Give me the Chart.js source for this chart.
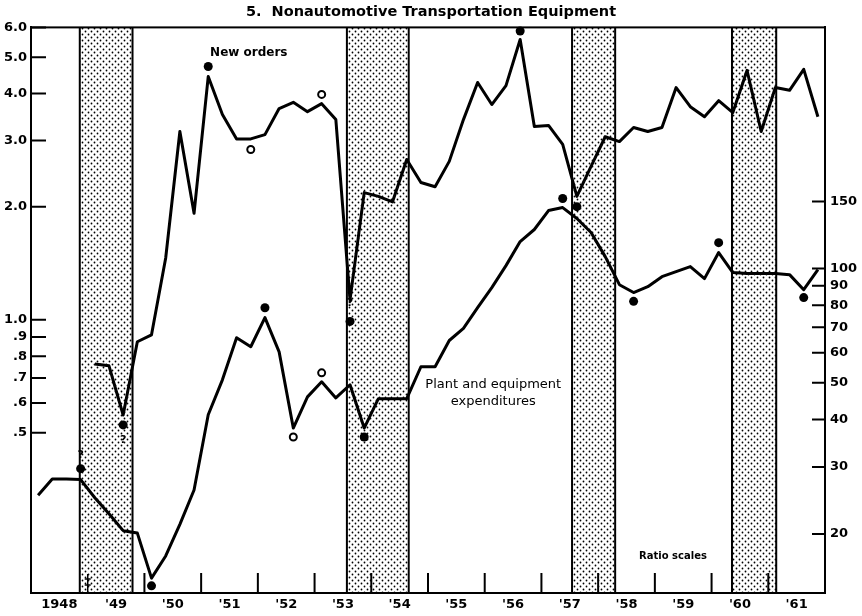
<!DOCTYPE html>
<html>
<head>
<meta charset="utf-8">
<script src="https://cdn.jsdelivr.net/npm/chart.js@4.4.1/dist/chart.umd.min.js"></script>
<style>
  body { margin: 0; background: #fff; }
  #wrap { width: 862px; height: 616px; }
</style>
</head>
<body>
<div id="wrap"><canvas id="myChart" width="862" height="616"></canvas></div>
<script>
// quarterly values, 1948 Q1 onward
var firstYear = 1948;

var newOrders = [null, null, null, null, 0.763, 0.754, 0.558, 0.874, 0.912, 1.46,
  3.17, 1.92, 4.44, 3.52, 3.03, 3.03, 3.11, 3.65, 3.79, 3.58,
  3.76, 3.41, 1.13, 2.18, 2.13, 2.06, 2.67, 2.32, 2.26, 2.64,
  3.41, 4.28, 3.74, 4.20, 5.57, 3.27, 3.29, 2.93, 2.13, 2.56,
  3.07, 2.98, 3.25, 3.17, 3.25, 4.15, 3.69, 3.47, 3.83, 3.56,
  4.61, 3.17, 4.15, 4.08, 4.64, 3.47];

var plantExp = [25.3, 27.9, 27.9, 27.8, 24.9, 22.6, 20.4, 20.1, 15.3, 17.5,
  21.2, 26.1, 41.2, 50.9, 65.7, 62.2, 74.2, 60.3, 38.0, 45.9,
  50.3, 45.6, 49.4, 38.0, 45.4, 45.4, 45.4, 55.1, 55.1, 64.6,
  69.5, 78.8, 89.0, 101.7, 117.7, 126.6, 142.0, 144.6, 135.3, 124.3,
  107.4, 90.6, 86.4, 89.5, 95.1, 98.1, 101.1, 94.0, 110.1, 97.5,
  96.9, 96.9, 96.9, 96.3, 87.9, 99.3];

// turning points (quarter index, value)
var ordersDotQ = [6, 12, 22, 34, 38];
var ordersDotVal = [0.525, 4.72, 0.99, 5.87, 2.0];
var ordersRingQ = [15, 20];
var ordersRingVal = [2.84, 3.98];
var plantDotQ = [3, 8, 16, 23, 37, 42, 48, 54];
var plantDotVal = [29.7, 14.6, 78.8, 36.0, 152.8, 81.9, 116.9, 83.8];
var plantRingQ = [18, 20];
var plantRingVal = [36.0, 53.1];

// recessions
var recStart = [1948.86, 1953.57, 1957.54, 1960.36];
var recEnd = [1949.79, 1954.66, 1958.30, 1961.14];

var yearLabels = ['1948', "'49", "'50", "'51", "'52", "'53", "'54", "'55", "'56", "'57", "'58", "'59", "'60", "'61"];
var leftTicks = [0.5, 0.6, 0.7, 0.8, 0.9, 1, 2, 3, 4, 5, 6];
var leftTickLabels = ['.5', '.6', '.7', '.8', '.9', '1.0', '2.0', '3.0', '4.0', '5.0', '6.0'];
var rightTicks = [20, 30, 40, 50, 60, 70, 80, 90, 100, 150];
var rightTickLabels = ['20', '30', '40', '50', '60', '70', '80', '90', '100', '150'];

function qx(i) { return firstYear + (i + 0.5) / 4; }
function toPoints(values) {
  return values.map(function (v, i) { return {x: qx(i), y: v}; });
}
function pick(qs, vals) {
  return qs.map(function (q, i) { return {x: qx(q), y: vals[i]}; });
}

var fontFam = '"DejaVu Sans", sans-serif';

function dotTile() {
  var c = document.createElement('canvas');
  c.width = 6; c.height = 6;
  var g = c.getContext('2d');
  g.fillStyle = '#000';
  g.beginPath(); g.arc(1.5, 1.5, 0.9, 0, Math.PI * 2); g.fill();
  g.beginPath(); g.arc(4.5, 4.5, 0.9, 0, Math.PI * 2); g.fill();
  return c;
}

var bands = {
  id: 'bands',
  beforeDatasetsDraw: function (chart) {
    var ctx = chart.ctx, a = chart.chartArea, x = chart.scales.x;
    var pat = ctx.createPattern(dotTile(), 'repeat');
    ctx.save();
    for (var i = 0; i < recStart.length; i++) {
      var x0 = x.getPixelForValue(recStart[i]), x1 = x.getPixelForValue(recEnd[i]);
      ctx.fillStyle = pat;
      ctx.fillRect(x0, a.top, x1 - x0, a.bottom - a.top);
      ctx.strokeStyle = '#000';
      ctx.lineWidth = 2;
      ctx.beginPath();
      ctx.moveTo(x0, a.top); ctx.lineTo(x0, a.bottom);
      ctx.moveTo(x1, a.top); ctx.lineTo(x1, a.bottom);
      ctx.stroke();
    }
    ctx.restore();
  }
};

var frame = {
  id: 'frame',
  afterDatasetsDraw: function (chart) {
    var ctx = chart.ctx, a = chart.chartArea, s = chart.scales;
    ctx.save();
    ctx.strokeStyle = '#000';
    ctx.lineWidth = 2;
    ctx.strokeRect(a.left, a.top, a.right - a.left, a.bottom - a.top);

    // inward tick marks
    ctx.beginPath();
    leftTicks.forEach(function (v) {
      var y = s.y.getPixelForValue(v);
      ctx.moveTo(a.left, y); ctx.lineTo(a.left + 15, y);
    });
    rightTicks.forEach(function (v) {
      var y = s.yR.getPixelForValue(v);
      ctx.moveTo(a.right - 13, y); ctx.lineTo(a.right, y);
    });
    for (var yr = 1950; yr <= 1961; yr++) {
      var px = s.x.getPixelForValue(yr);
      ctx.moveTo(px, a.bottom - 20); ctx.lineTo(px, a.bottom);
    }
    ctx.stroke();

    // 1949 mark
    var p49 = s.x.getPixelForValue(1949);
    ctx.lineWidth = 1.5;
    ctx.beginPath();
    ctx.moveTo(p49, a.bottom - 19); ctx.lineTo(p49, a.bottom);
    ctx.moveTo(p49 - 3, a.bottom - 14); ctx.lineTo(p49 + 3, a.bottom - 14);
    ctx.moveTo(p49 - 3, a.bottom - 8); ctx.lineTo(p49 + 3, a.bottom - 8);
    ctx.stroke();

    // notes
    ctx.fillStyle = '#000';
    ctx.textAlign = 'center';
    ctx.textBaseline = 'middle';
    ctx.font = 'bold 12px ' + fontFam;
    ctx.fillText('New orders', s.x.getPixelForValue(1951.84), s.y.getPixelForValue(5.14));
    ctx.font = '13px ' + fontFam;
    ctx.fillText('Plant and equipment', s.x.getPixelForValue(1956.15), s.yR.getPixelForValue(49.4));
    ctx.fillText('expenditures', s.x.getPixelForValue(1956.15), s.yR.getPixelForValue(44.6));
    ctx.font = 'bold 10px ' + fontFam;
    ctx.fillText('Ratio scales', s.x.getPixelForValue(1959.32), s.yR.getPixelForValue(17.4));

    // doubtful turning points
    ctx.font = 'bold 11px ' + fontFam;
    ctx.fillText('?', s.x.getPixelForValue(qx(3)), s.yR.getPixelForValue(29.7) - 14);
    ctx.fillText('?', s.x.getPixelForValue(qx(6)), s.y.getPixelForValue(0.525) + 15);
    ctx.fillText('?', s.x.getPixelForValue(qx(22)), s.y.getPixelForValue(0.99) - 18);
    ctx.restore();
  }
};

var tickFont = {family: fontFam, size: 13, weight: 'bold'};
var noGrid = {display: false, drawTicks: false, tickLength: 0};

var ctx = document.getElementById('myChart');
var myChart = new Chart(ctx, {
  type: 'line',
  data: {
    datasets: [
      {data: toPoints(newOrders), yAxisID: 'y', borderColor: '#000', borderWidth: 3,
        pointRadius: 0, borderJoinStyle: 'round', spanGaps: false, fill: false},
      {data: toPoints(plantExp), yAxisID: 'yR', borderColor: '#000', borderWidth: 3,
        pointRadius: 0, borderJoinStyle: 'round', fill: false},
      {data: pick(ordersDotQ, ordersDotVal), yAxisID: 'y', showLine: false, clip: false,
        pointRadius: 4.5, pointBackgroundColor: '#000', pointBorderWidth: 0},
      {data: pick(ordersRingQ, ordersRingVal), yAxisID: 'y', showLine: false, clip: false,
        pointRadius: 3.5, pointBackgroundColor: '#fff', pointBorderColor: '#000', pointBorderWidth: 2},
      {data: pick(plantDotQ, plantDotVal), yAxisID: 'yR', showLine: false, clip: false,
        pointRadius: 4.5, pointBackgroundColor: '#000', pointBorderWidth: 0},
      {data: pick(plantRingQ, plantRingVal), yAxisID: 'yR', showLine: false, clip: false,
        pointRadius: 3.5, pointBackgroundColor: '#fff', pointBorderColor: '#000', pointBorderWidth: 2}
    ]
  },
  options: {
    responsive: false,
    animation: false,
    events: [],
    layout: {padding: 0},
    plugins: {
      legend: {display: false},
      tooltip: {enabled: false},
      title: {
        display: true,
        text: '5.  Nonautomotive Transportation Equipment',
        color: '#000',
        font: {family: fontFam, size: 14.5, weight: 'bold'},
        padding: {top: 4, bottom: 6}
      }
    },
    scales: {
      x: {
        type: 'linear', position: 'bottom', min: 1948, max: 1962,
        grid: noGrid,
        border: {color: '#000', width: 2},
        afterBuildTicks: function (scale) {
          scale.ticks = yearLabels.map(function (l, i) { return {value: 1948.5 + i}; });
        },
        afterFit: function (scale) { scale.height = 23; },
        ticks: {
          color: '#000', font: tickFont, autoSkip: false, maxRotation: 0, minRotation: 0, padding: 4,
          callback: function (v, i) { return yearLabels[i]; }
        }
      },
      y: {
        type: 'logarithmic', position: 'left', min: 0.1874, max: 6.0,
        grid: noGrid,
        border: {color: '#000', width: 2},
        afterBuildTicks: function (scale) {
          scale.ticks = leftTicks.map(function (v) { return {value: v}; });
        },
        afterFit: function (scale) { scale.width = 31; },
        ticks: {
          color: '#000', font: tickFont, autoSkip: false, padding: 4,
          callback: function (v, i) { return leftTickLabels[i]; }
        }
      },
      yR: {
        type: 'logarithmic', position: 'right', min: 13.98, max: 431,
        grid: noGrid,
        border: {color: '#000', width: 2},
        afterBuildTicks: function (scale) {
          scale.ticks = rightTicks.map(function (v) { return {value: v}; });
        },
        afterFit: function (scale) { scale.width = 37; },
        ticks: {
          color: '#000', font: tickFont, autoSkip: false, padding: 5,
          callback: function (v, i) { return rightTickLabels[i]; }
        }
      }
    }
  },
  plugins: [bands, frame]
});
</script>
</body>
</html>
